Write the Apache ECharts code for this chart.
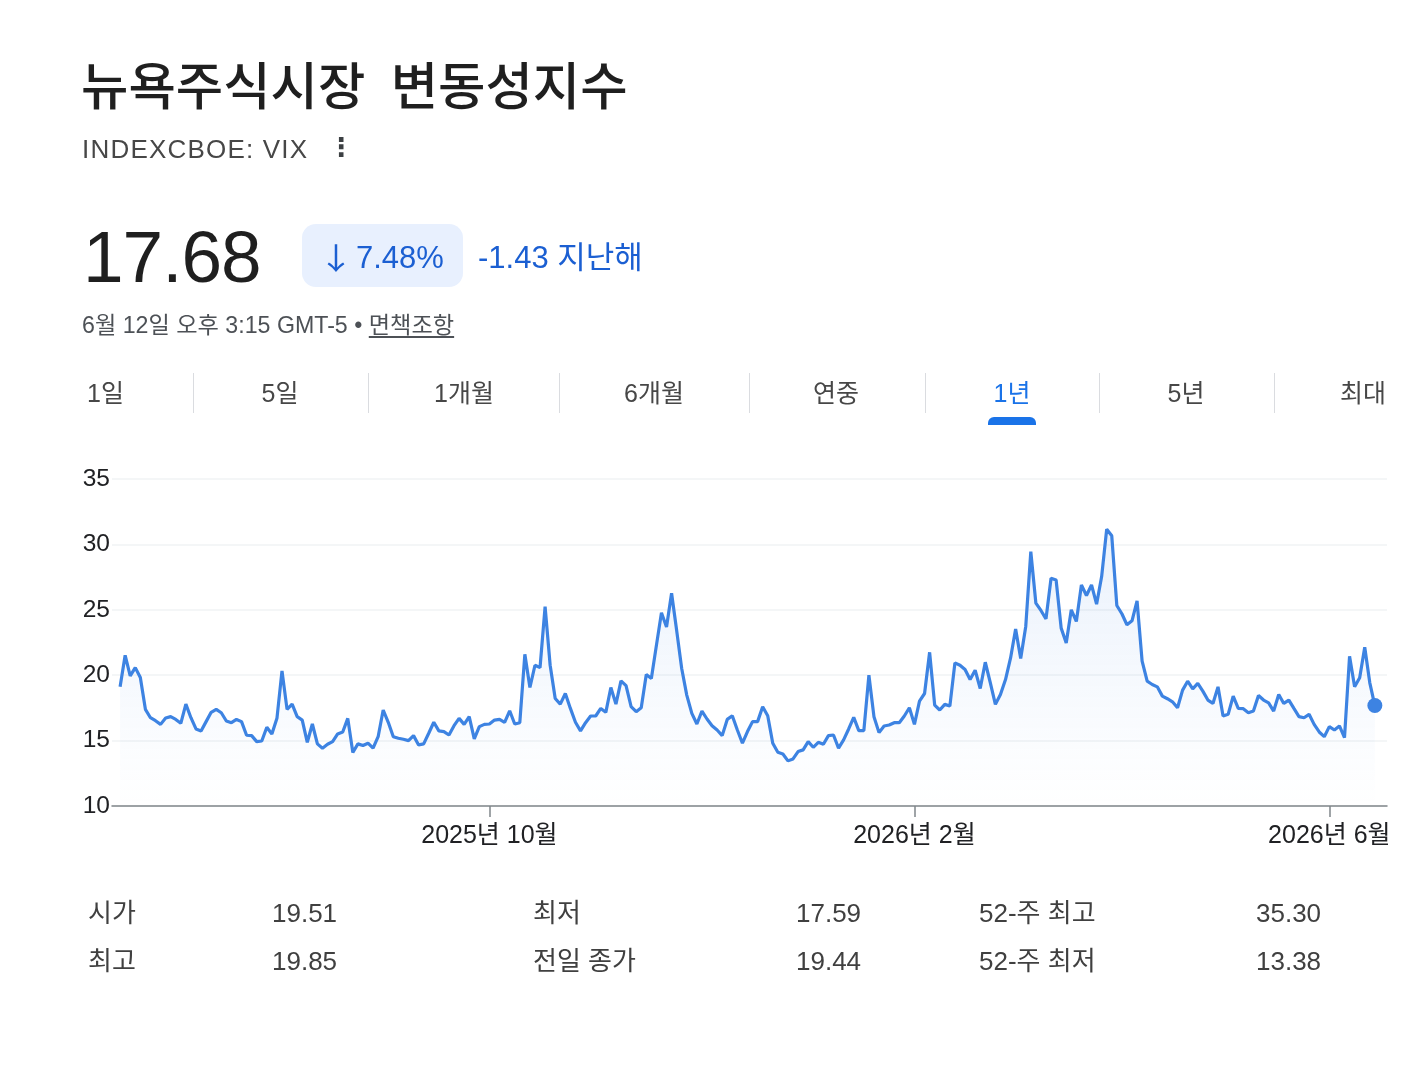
<!DOCTYPE html>
<html lang="ko">
<head>
<meta charset="utf-8">
<script src="https://cdn.jsdelivr.net/npm/echarts@6/dist/echarts.min.js"></script>
<style>
  html, body { margin:0; padding:0; background:#fff; }
  body { width:1416px; height:1068px; position:relative; overflow:hidden;
         font-family:'Liberation Sans', Arial, 'Noto Sans CJK KR', sans-serif; }
  #chart { position:absolute; left:0; top:0; width:1416px; height:1068px; z-index:0; }
  .t { position:absolute; white-space:nowrap; line-height:1; z-index:1; }
  .title { left:81px; top:57px; font-size:51.5px; color:#1f1f1f; font-weight:500;
           font-family:'Noto Sans CJK KR', sans-serif; word-spacing:11px; }
  .ticker { left:82px; top:136px; font-size:26px; color:#474747; letter-spacing:1.2px; }
  .kebab { left:328px; top:134px; font-size:26px; color:#3c4043; font-weight:bold;
           font-family:'DejaVu Sans', sans-serif; }
  .price { left:83px; top:220px; font-size:73px; color:#1f1f1f; letter-spacing:-1px; }
  .badge { position:absolute; left:302px; top:224px; width:161px; height:63px; border-radius:14px;
           background:#e8f0fe; z-index:1; }
  .chg { top:242px; font-size:31px; color:#1b5fd2; }
  .arrow { top:241px; font-size:30px; color:#1b5fd2; font-family:'Noto Sans CJK KR', sans-serif;
           transform:scaleX(1.2); transform-origin:left center; }
  .date { left:82px; top:314px; font-size:23.2px; color:#4d5156; }
  .date u { text-underline-offset:3px; }
  .tab { top:381px; font-size:25px; color:#474747; }
  .sep { position:absolute; top:373px; width:1px; height:40px; background:#dadce0; z-index:1; }
  .ind { position:absolute; left:988px; top:417px; width:48px; height:8px; background:#1a73e8;
         border-radius:6px 6px 0 0; z-index:1; }
  .st { font-size:26px; color:#404040; }
  .r1 { top:900px; }
  .r2 { top:948px; }
</style>
</head>
<body>
<div id="chart"></div>

<div class="t title">뉴욕주식시장 변동성지수</div>
<div class="t ticker">INDEXCBOE: VIX</div>
<div class="t kebab">⋮</div>
<div class="t price">17.68</div>
<div class="badge"></div>
<div class="t arrow" style="left:318px;">↓</div>
<div class="t chg" style="left:356px;">7.48%</div>
<div class="t chg" style="left:478px;">-1.43 지난해</div>
<div class="t date">6월 12일 오후 3:15 GMT-5 • <u>면책조항</u></div>

<div class="t tab" style="left:87px;">1일</div>
<div class="t tab" style="left:280px;transform:translateX(-50%);">5일</div>
<div class="t tab" style="left:464px;transform:translateX(-50%);">1개월</div>
<div class="t tab" style="left:654px;transform:translateX(-50%);">6개월</div>
<div class="t tab" style="left:836px;transform:translateX(-50%);">연중</div>
<div class="t tab" style="left:1012px;transform:translateX(-50%);color:#1a73e8;">1년</div>
<div class="t tab" style="left:1186px;transform:translateX(-50%);">5년</div>
<div class="t tab" style="right:30px;">최대</div>
<div class="sep" style="left:193px;"></div>
<div class="sep" style="left:368px;"></div>
<div class="sep" style="left:559px;"></div>
<div class="sep" style="left:749px;"></div>
<div class="sep" style="left:925px;"></div>
<div class="sep" style="left:1099px;"></div>
<div class="sep" style="left:1274px;"></div>
<div class="ind"></div>

<div class="t st r1" style="left:88px;">시가</div>
<div class="t st r1" style="left:272px;">19.51</div>
<div class="t st r1" style="left:533px;">최저</div>
<div class="t st r1" style="left:796px;">17.59</div>
<div class="t st r1" style="left:979px;">52-주 최고</div>
<div class="t st r1" style="left:1256px;">35.30</div>
<div class="t st r2" style="left:88px;">최고</div>
<div class="t st r2" style="left:272px;">19.85</div>
<div class="t st r2" style="left:533px;">전일 종가</div>
<div class="t st r2" style="left:796px;">19.44</div>
<div class="t st r2" style="left:979px;">52-주 최저</div>
<div class="t st r2" style="left:1256px;">13.38</div>

<script>
// VIX daily closes, 2025-06-17 .. 2026-06-12
const vixJunSep = [
  19.11, 21.52, 19.95, 20.58, 19.82, 17.39, 16.75, 16.52, 16.24, 16.73,
  16.83, 16.62, 16.32, 17.79, 16.75, 15.89, 15.74, 16.45, 17.16, 17.39,
  17.13, 16.50, 16.37, 16.62, 16.45, 15.41, 15.38, 14.92, 14.97, 16.02,
  15.51, 16.70, 20.33, 17.39, 17.79, 16.83, 16.57, 14.87, 16.27, 14.75,
  14.42, 14.72, 14.92, 15.51, 15.66, 16.70, 14.09, 14.75, 14.62, 14.80,
  14.42
];
const vixSepNov = [
  15.30, 17.34, 16.40, 15.30, 15.18, 15.10, 15.00, 15.38, 14.67, 14.75,
  15.56, 16.40, 15.74, 15.69, 15.43, 16.14, 16.70, 16.24, 16.83, 15.13,
  16.07, 16.24, 16.27, 16.57, 16.62, 16.40, 17.28, 16.27, 16.37, 21.60,
  19.06, 20.76, 20.58, 25.25, 20.76, 18.22, 17.79, 18.60, 17.46, 16.40,
  15.74, 16.37, 16.88, 16.88, 17.46, 17.16, 19.06, 17.79, 19.57, 19.20
];
const vixNovJan = [
  17.59, 17.21, 17.51, 20.05, 19.75, 22.28, 24.77, 23.68, 26.27, 23.43,
  20.51, 18.48, 17.08, 16.27, 17.26, 16.65, 16.14, 15.81, 15.38, 16.62,
  16.90, 15.81, 14.80, 15.69, 16.45, 16.45, 17.59, 16.90, 14.80, 14.11,
  13.98, 13.45, 13.60, 14.16, 14.29, 14.92, 14.49, 14.87, 14.72, 15.38,
  15.43, 14.42, 15.05, 15.89, 16.78, 15.76, 15.76, 20.00, 16.83, 15.61
];
const vixJanApr = [
  16.12, 16.19, 16.37, 16.37, 16.88, 17.51, 16.24, 18.02, 18.60, 21.75,
  17.72, 17.34, 17.77, 17.64, 20.94, 20.76, 20.43, 19.67, 20.38, 18.98,
  20.99, 19.42, 17.77, 18.53, 19.67, 21.32, 23.53, 21.27, 23.73, 29.44,
  25.51, 24.95, 24.31, 27.41, 27.28, 23.60, 22.46, 25.00, 24.11, 26.90,
  26.09, 26.90, 25.43, 27.54, 31.17, 30.66, 25.33, 24.70, 23.86, 24.16,
  25.69
];
const vixAprJun = [
  21.07, 19.54, 19.29, 19.11, 18.40, 18.20, 17.97, 17.51, 18.86, 19.54,
  18.96, 19.37, 18.78, 18.10, 17.84, 19.11, 16.88, 17.01, 18.40, 17.46,
  17.44, 17.13, 17.26, 18.45, 18.10, 17.89, 17.26, 18.53, 17.84, 18.10,
  17.46, 16.83, 16.75, 17.01, 16.24, 15.66, 15.30, 16.07, 15.81, 16.12,
  15.23, 21.45, 19.11, 19.80, 22.13, 19.42, 17.68
];

const startDate = '2025-06-17';
const marketHolidays = ['2025-06-19','2025-07-04','2025-09-01','2025-11-27','2025-12-25',
                        '2026-01-01','2026-01-19','2026-02-16','2026-04-03','2026-05-25'];
const tickMonths = ['2025-10', '2026-02', '2026-06'];
const tickLabels = ['2025년 10월', '2026년 2월', '2026년 6월'];
const yTicks = [10, 15, 20, 25, 30, 35];

const values = [].concat(vixJunSep, vixSepNov, vixNovJan, vixJanApr, vixAprJun);

// trading-day calendar for the x axis
function fmt(d) {
  const m = String(d.getUTCMonth() + 1).padStart(2, '0');
  const day = String(d.getUTCDate()).padStart(2, '0');
  return d.getUTCFullYear() + '-' + m + '-' + day;
}
const dates = [];
let cur = new Date(startDate + 'T00:00:00Z');
while (dates.length < values.length) {
  const wd = cur.getUTCDay();
  const s = fmt(cur);
  if (wd !== 0 && wd !== 6 && marketHolidays.indexOf(s) < 0) dates.push(s);
  cur = new Date(cur.getTime() + 86400000);
}
const tickIdx = tickMonths.map(m => dates.findIndex(d => d.slice(0, 7) === m));

const seriesData = values.map((v, i) => [i, v]);
const last = seriesData[seriesData.length - 1];

const FONT = "'Liberation Sans', Arial, 'Noto Sans CJK KR', sans-serif";
const LINE = '#3d83e2';
const chart = echarts.init(document.getElementById('chart'), null, { renderer: 'canvas' });
chart.setOption({
  animation: false,
  grid: { left: 112, right: 29, top: 479, bottom: 262 },
  xAxis: {
    type: 'value',
    min: -1.6,
    max: values.length - 1 + 2.4,
    splitLine: { show: false },
    axisLine: { show: true, lineStyle: { color: '#80868b', width: 1.5 } },
    axisTick: { show: true, customValues: tickIdx, length: 11, lineStyle: { color: '#80868b', width: 1.5 } },
    axisLabel: {
      customValues: tickIdx,
      formatter: function (v) {
        const k = tickIdx.indexOf(Math.round(v));
        return k >= 0 ? tickLabels[k] : '';
      },
      color: '#202124', fontSize: 25, margin: 18, fontFamily: FONT
    }
  },
  yAxis: {
    type: 'value',
    min: yTicks[0], max: yTicks[yTicks.length - 1], interval: 5,
    axisLine: { show: false },
    axisTick: { show: false },
    splitLine: { lineStyle: { color: '#f1f3f4', width: 1.5 } },
    axisLabel: { color: '#202124', fontSize: 24.5, margin: 2, fontFamily: FONT }
  },
  series: [
    {
      type: 'line',
      data: seriesData,
      showSymbol: false,
      symbol: 'none',
      lineStyle: { color: LINE, width: 3.2 },
      itemStyle: { color: LINE },
      areaStyle: {
        origin: 'start',
        color: new echarts.graphic.LinearGradient(0, 0, 0, 1, [
          { offset: 0, color: 'rgba(61,131,226,0.15)' },
          { offset: 1, color: 'rgba(61,131,226,0)' }
        ])
      },
      z: 2
    },
    {
      type: 'scatter',
      data: [last],
      symbol: 'circle',
      symbolSize: 15,
      itemStyle: { color: LINE, opacity: 1 },
      z: 3
    }
  ]
});
</script>
</body>
</html>
